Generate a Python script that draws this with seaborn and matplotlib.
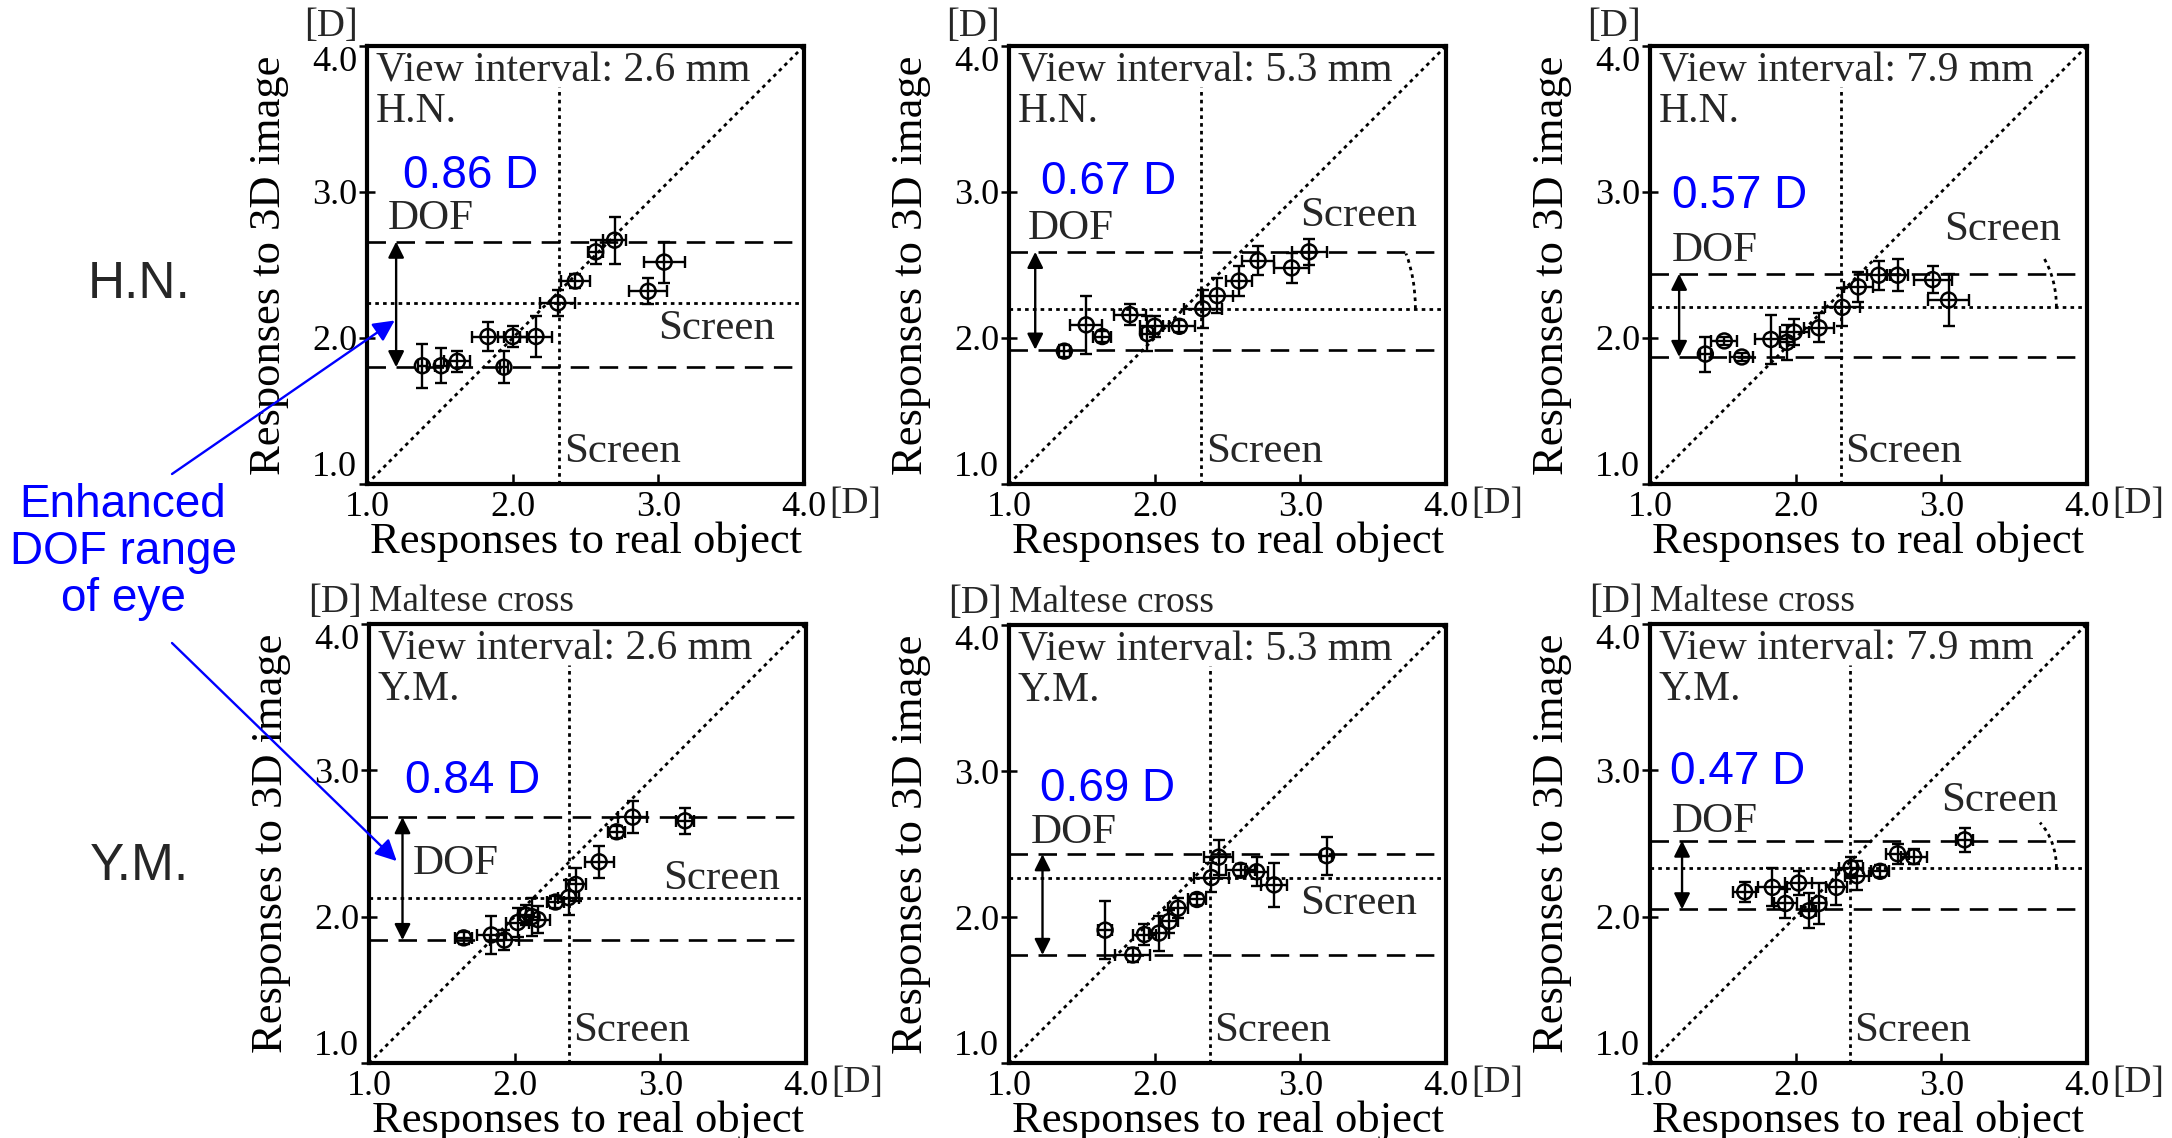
import numpy as np
import matplotlib
matplotlib.use("Agg")
import matplotlib.pyplot as plt
import seaborn as sns
from matplotlib.patches import Arc

sns.set_theme(style="white")
plt.rcParams["font.family"] = ["Liberation Serif", "DejaVu Serif"]

# ---------------- data: accommodation responses [D] ----------------
# H.N., view interval 2.6 mm
hn26_real = [1.38, 1.51, 1.62, 1.83, 1.94, 2.00, 2.16, 2.31, 2.43, 2.57, 2.70, 2.93, 3.04]
hn26_img = [1.81, 1.81, 1.84, 2.01, 1.80, 2.01, 2.01, 2.24, 2.39, 2.59, 2.67, 2.32, 2.52]
hn26_xerr = [0.03, 0.04, 0.09, 0.11, 0.03, 0.10, 0.11, 0.12, 0.10, 0.05, 0.08, 0.13, 0.14]
hn26_yerr = [0.15, 0.12, 0.07, 0.10, 0.11, 0.07, 0.14, 0.09, 0.05, 0.08, 0.16, 0.09, 0.14]

# H.N., view interval 5.3 mm
hn53_real = [1.38, 1.53, 1.64, 1.83, 1.95, 2.00, 2.17, 2.33, 2.43, 2.58, 2.71, 2.94, 3.06]
hn53_img = [1.91, 2.09, 2.01, 2.16, 2.03, 2.08, 2.08, 2.20, 2.29, 2.39, 2.53, 2.48, 2.59]
hn53_xerr = [0.04, 0.11, 0.06, 0.11, 0.04, 0.10, 0.11, 0.13, 0.11, 0.09, 0.11, 0.12, 0.12]
hn53_yerr = [0.04, 0.20, 0.04, 0.07, 0.12, 0.07, 0.04, 0.13, 0.12, 0.10, 0.10, 0.10, 0.09]

# H.N., view interval 7.9 mm
hn79_real = [1.38, 1.51, 1.63, 1.83, 1.94, 1.99, 2.16, 2.32, 2.43, 2.57, 2.70, 2.94, 3.05]
hn79_img = [1.89, 1.98, 1.87, 1.99, 1.97, 2.04, 2.07, 2.21, 2.35, 2.43, 2.43, 2.40, 2.26]
hn79_xerr = [0.04, 0.09, 0.08, 0.11, 0.05, 0.10, 0.10, 0.12, 0.10, 0.08, 0.07, 0.13, 0.14]
hn79_yerr = [0.12, 0.03, 0.03, 0.17, 0.12, 0.09, 0.10, 0.13, 0.10, 0.10, 0.11, 0.09, 0.18]

# Y.M., view interval 2.6 mm
ym26_real = [1.65, 1.84, 1.93, 2.02, 2.08, 2.12, 2.16, 2.28, 2.37, 2.42, 2.58, 2.70, 2.81, 3.17]
ym26_img = [1.855, 1.875, 1.84, 1.96, 2.01, 2.00, 1.98, 2.10, 2.13, 2.22, 2.375, 2.58, 2.68, 2.655]
ym26_xerr = [0.06, 0.10, 0.10, 0.08, 0.04, 0.04, 0.08, 0.06, 0.07, 0.07, 0.10, 0.06, 0.10, 0.06]
ym26_yerr = [0.04, 0.13, 0.07, 0.10, 0.07, 0.13, 0.09, 0.04, 0.12, 0.11, 0.11, 0.04, 0.11, 0.09]

# Y.M., view interval 5.3 mm
ym53_real = [1.66, 1.85, 1.93, 2.03, 2.10, 2.16, 2.29, 2.39, 2.44, 2.59, 2.70, 2.82, 3.18]
ym53_img = [1.91, 1.74, 1.88, 1.89, 1.97, 2.06, 2.12, 2.27, 2.41, 2.32, 2.31, 2.22, 2.42]
ym53_xerr = [0.05, 0.12, 0.08, 0.07, 0.06, 0.07, 0.06, 0.12, 0.10, 0.10, 0.08, 0.09, 0.04]
ym53_yerr = [0.20, 0.05, 0.07, 0.12, 0.08, 0.07, 0.04, 0.10, 0.12, 0.04, 0.10, 0.15, 0.13]

# Y.M., view interval 7.9 mm
ym79_real = [1.65, 1.84, 1.93, 2.02, 2.09, 2.16, 2.28, 2.38, 2.42, 2.58, 2.70, 2.81, 3.16]
ym79_img = [2.17, 2.20, 2.09, 2.23, 2.04, 2.09, 2.20, 2.335, 2.28, 2.31, 2.43, 2.41, 2.525]
ym79_xerr = [0.08, 0.10, 0.08, 0.09, 0.05, 0.05, 0.07, 0.08, 0.08, 0.06, 0.08, 0.09, 0.06]
ym79_yerr = [0.07, 0.13, 0.10, 0.08, 0.12, 0.14, 0.12, 0.07, 0.10, 0.04, 0.07, 0.05, 0.08]

subjects = ["H.N.", "H.N.", "H.N.", "Y.M.", "Y.M.", "Y.M."]
intervals = ["2.6", "5.3", "7.9", "2.6", "5.3", "7.9"]
dof_values = [0.86, 0.67, 0.57, 0.84, 0.69, 0.47]
dof_upper = [2.66, 2.59, 2.44, 2.68, 2.43, 2.52]
screen_image = [2.24, 2.20, 2.21, 2.13, 2.27, 2.335]
screen_real = [2.32, 2.32, 2.31, 2.37, 2.38, 2.37]
tick_vals = [1.0, 2.0, 3.0, 4.0]
tick_labels = ["1.0", "2.0", "3.0", "4.0"]

series = [
    (hn26_real, hn26_img, hn26_xerr, hn26_yerr),
    (hn53_real, hn53_img, hn53_xerr, hn53_yerr),
    (hn79_real, hn79_img, hn79_xerr, hn79_yerr),
    (ym26_real, ym26_img, ym26_xerr, ym26_yerr),
    (ym53_real, ym53_img, ym53_xerr, ym53_yerr),
    (ym79_real, ym79_img, ym79_xerr, ym79_yerr),
]

# ---------------- layout ----------------
W, H = 2172, 1138
fig = plt.figure(figsize=(W / 100, H / 100), dpi=100)
fig.patch.set_facecolor("white")

# axes boxes in pixels: left, top, width, height
boxes = [(367, 46, 437, 438), (1009, 46, 437, 438), (1650, 46, 437, 438),
         (369, 624, 437, 439), (1009, 625, 437, 438), (1650, 624, 437, 439)]

# annotation placement per panel
arrow_x = [1.20, 1.18, 1.20, 1.23, 1.23, 1.22]
dof_text_pos = [(1.14, 2.82), (1.13, 2.75), (1.15, 2.60), (1.30, 2.36), (1.15, 2.58), (1.15, 2.65)]
value_pos = [(1.25, 3.11), (1.22, 3.07), (1.15, 2.97), (1.25, 2.93), (1.21, 2.88), (1.14, 2.99)]
screen_lbl_pos = [(3.0, 2.06), (3.0, 2.84), (3.02, 2.74), (3.02, 2.26), (3.0, 2.09), (3.0, 2.79)]
arc_top = [None, 2.72, 2.62, None, None, 2.67]

dotted = (0, (1.3, 1.5))
dashed = (0, (7.0, 4.0))
DOT_LW = 2.0
axes_list = []

for i, (bx, (xr, yi, xe, ye)) in enumerate(zip(boxes, series)):
    l, t, w, h = bx
    ax = fig.add_axes([l / W, 1 - (t + h) / H, w / W, h / H])
    axes_list.append(ax)
    ax.set_xlim(1, 4)
    ax.set_ylim(1, 4)
    ax.set_facecolor("white")

    # reference lines
    ax.plot([1, 4], [1, 4], ls=dotted, color="black", lw=DOT_LW, zorder=2)
    ax.plot([1, 4], [screen_image[i]] * 2, ls=dotted, color="black", lw=DOT_LW, zorder=2)
    ax.plot([screen_real[i]] * 2, [1, 3.72], ls=dotted, color="black", lw=DOT_LW, zorder=2)
    lower = dof_upper[i] - dof_values[i]
    for yv in (dof_upper[i], lower):
        ax.plot([1, 4], [yv, yv], ls=dashed, color="black", lw=1.9, zorder=2)

    # data with error bars
    ax.errorbar(xr, yi, xerr=xe, yerr=ye, fmt="none", ecolor="black",
                elinewidth=1.7, capsize=4.5, capthick=1.7, zorder=4)
    sns.scatterplot(x=xr, y=yi, ax=ax, marker="o", s=115, facecolors="none",
                    edgecolor="black", linewidth=1.8, zorder=5, legend=False)

    # DOF double arrow
    ax.annotate("", xy=(arrow_x[i], dof_upper[i]), xytext=(arrow_x[i], lower),
                arrowprops=dict(arrowstyle="<|-|>", color="black", lw=1.7,
                                mutation_scale=24, shrinkA=0, shrinkB=0), zorder=6)
    ax.text(dof_text_pos[i][0], dof_text_pos[i][1], "DOF", fontsize=31,
            ha="left", va="center")
    ax.text(value_pos[i][0], value_pos[i][1], f"{dof_values[i]:.2f} D", fontsize=33,
            color="#0000ff", family=["Liberation Sans", "DejaVu Sans"],
            ha="left", va="center")

    # texts
    ax.text(1.06, 3.83, f"View interval: {intervals[i]} mm", fontsize=30,
            ha="left", va="center")
    ax.text(1.06, 3.55, subjects[i], fontsize=30, ha="left", va="center")
    ax.text(screen_real[i] + 0.03, 1.22, "Screen", fontsize=31, ha="left", va="center")
    ax.text(screen_lbl_pos[i][0], screen_lbl_pos[i][1], "Screen", fontsize=31,
            ha="left", va="center")
    if arc_top[i] is not None:
        rx = 0.32
        th = 56.0
        ry = (arc_top[i] - screen_image[i]) / np.sin(np.radians(th))
        ax.add_patch(Arc((3.79 - rx, screen_image[i]), 2 * rx, 2 * ry,
                         theta1=0, theta2=th, ls=dotted, lw=DOT_LW, color="black"))

    # axes styling
    for sp in ax.spines.values():
        sp.set_visible(True)
        sp.set_color("black")
        sp.set_linewidth(3.0)
    ax.set_xticks(tick_vals)
    ax.set_xticklabels(tick_labels)
    ax.set_yticks(tick_vals)
    ax.set_yticklabels(tick_labels)
    ax.tick_params(axis="x", direction="in", length=7, width=1.8, labelsize=26,
                   pad=5, colors="black", bottom=True)
    ax.tick_params(axis="y", direction="inout", length=12, width=1.8, labelsize=26,
                   pad=1, colors="black", left=True)
    ylabs = ax.get_yticklabels()
    ylabs[-1].set_va("top")
    ylabs[0].set_va("bottom")

    ax.set_xlabel("Responses to real object", fontsize=32, va="center", color="black")
    ax.xaxis.set_label_coords(0.5, -0.132)
    ax.set_ylabel("Responses to 3D image", fontsize=32, va="center", color="black")
    ax.yaxis.set_label_coords(-0.225, 0.5)

    ax.text(1.058, -0.046, "[D]", transform=ax.transAxes, fontsize=27,
            ha="left", va="center")
    if i < 3:
        ax.text(-0.02, 1.045, "[D]", transform=ax.transAxes, fontsize=28,
                ha="right", va="center")
    else:
        ax.text(-0.016, 1.05, "[D]", transform=ax.transAxes, fontsize=28,
                ha="right", va="center")
        ax.text(0.0, 1.05, "Maltese cross", transform=ax.transAxes, fontsize=27,
                ha="left", va="center")

# row labels and callout
sans = ["Liberation Sans", "DejaVu Sans"]
fig.text(139 / W, 1 - 285 / H, "H.N.", fontsize=37, family=sans, ha="center", va="center")
fig.text(139 / W, 1 - 867 / H, "Y.M.", fontsize=37, family=sans, ha="center", va="center")
fig.text(123 / W, 1 - 552 / H, "Enhanced\nDOF range\nof eye", fontsize=33, family=sans,
         color="#0000ff", ha="center", va="center", linespacing=1.1)

axes_list[0].annotate("", xy=(1.19, 2.12), xycoords="data",
                      xytext=(172, H - 474), textcoords="figure pixels",
                      arrowprops=dict(arrowstyle="-|>", color="#0000ff", lw=1.7,
                                      mutation_scale=32, shrinkA=0, shrinkB=0),
                      annotation_clip=False, zorder=10)
axes_list[3].annotate("", xy=(1.19, 2.38), xycoords="data",
                      xytext=(172, H - 643), textcoords="figure pixels",
                      arrowprops=dict(arrowstyle="-|>", color="#0000ff", lw=1.7,
                                      mutation_scale=32, shrinkA=0, shrinkB=0),
                      annotation_clip=False, zorder=10)

fig.savefig("out.png", dpi=100, facecolor="white")
